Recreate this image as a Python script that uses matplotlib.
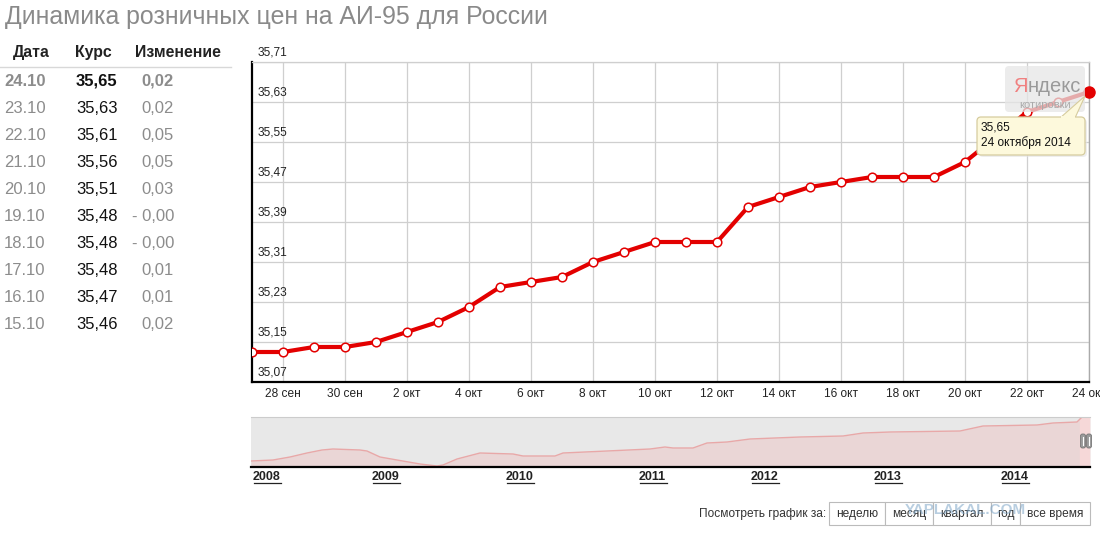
import matplotlib
matplotlib.use("Agg")
import matplotlib.pyplot as plt
import pandas as pd
import numpy as np
from matplotlib.patches import FancyBboxPatch, Rectangle, Polygon

plt.rcParams['font.family'] = ['Liberation Sans', 'DejaVu Sans']

# --- data ---
dates = ["2014-09-27", "2014-09-28", "2014-09-29", "2014-09-30", "2014-10-01",
         "2014-10-02", "2014-10-03", "2014-10-04", "2014-10-05", "2014-10-06",
         "2014-10-07", "2014-10-08", "2014-10-09", "2014-10-10", "2014-10-11",
         "2014-10-12", "2014-10-13", "2014-10-14", "2014-10-15", "2014-10-16",
         "2014-10-17", "2014-10-18", "2014-10-19", "2014-10-20", "2014-10-21",
         "2014-10-22", "2014-10-23", "2014-10-24"]
prices = [35.13, 35.13, 35.14, 35.14, 35.15, 35.17, 35.19, 35.22, 35.26, 35.27,
          35.28, 35.31, 35.33, 35.35, 35.35, 35.35, 35.42, 35.44, 35.46, 35.47,
          35.48, 35.48, 35.48, 35.51, 35.56, 35.61, 35.63, 35.65]
y_ticks = [35.07, 35.15, 35.23, 35.31, 35.39, 35.47, 35.55, 35.63, 35.71]
x_tick_dates = ["2014-09-28", "2014-09-30", "2014-10-02", "2014-10-04", "2014-10-06",
                "2014-10-08", "2014-10-10", "2014-10-12", "2014-10-14", "2014-10-16",
                "2014-10-18", "2014-10-20", "2014-10-22", "2014-10-24"]
x_tick_labels = ["28 сен", "30 сен", "2 окт", "4 окт", "6 окт", "8 окт", "10 окт",
                 "12 окт", "14 окт", "16 окт", "18 окт", "20 окт", "22 окт", "24 окт"]

tbl_dates = ["24.10", "23.10", "22.10", "21.10", "20.10", "19.10", "18.10", "17.10", "16.10", "15.10"]
tbl_rates = ["35,65", "35,63", "35,61", "35,56", "35,51", "35,48", "35,48", "35,48", "35,47", "35,46"]
tbl_change = ["0,02", "0,02", "0,05", "0,05", "0,03", "- 0,00", "- 0,00", "0,01", "0,01", "0,02"]

# navigator (overview 2008-2014), position index along the strip and relative level
nav_idx = [0, 22, 39, 56, 71, 82, 109, 116, 129, 146, 169, 186, 192, 206, 229, 262,
           272, 304, 312, 356, 399, 414, 422, 442, 456, 476, 499, 549, 592, 612, 639,
           709, 732, 786, 802, 826, 831, 839]
nav_lvl = [6, 7, 10, 14, 17, 18, 17, 16, 10, 7, 3, 1, 2, 8, 14, 13, 11, 11, 14, 16,
           18, 20, 19, 19, 24, 25, 28, 30, 31, 34, 35, 36, 41, 42, 44, 45, 50, 50]
year_pos = [2, 121, 255, 388, 500, 623, 750]
year_labels = ["2008", "2009", "2010", "2011", "2012", "2013", "2014"]

W, H = 1100, 541
fig = plt.figure(figsize=(W / 100, H / 100), dpi=100)
fig.patch.set_facecolor('white')

def box(l, t, r, b):
    return [l / W, 1 - b / H, (r - l) / W, (b - t) / H]

# --- main chart ---
x = pd.to_datetime(dates)
ax = fig.add_axes(box(252, 62, 1089, 382))
ax.plot(x, prices, color='#e30000', lw=3.0, marker='o', ms=6.2,
        mfc='white', mec='#e30000', mew=1.1, zorder=3)
ax.plot(x[-1:], prices[-1:], 'o', color='#e30000', ms=8, zorder=4, clip_on=False)
ax.set_xlim(x[0], x[-1])
ax.set_ylim(y_ticks[0], y_ticks[-1])
ax.set_yticks(y_ticks)
ax.set_yticklabels([])
ax.set_xticks(pd.to_datetime(x_tick_dates))
ax.set_xticklabels(x_tick_labels, fontsize=8.6, color='#222222')
ax.tick_params(axis='both', length=0)
ax.tick_params(axis='x', pad=4)
ax.grid(True, color='#cfcfcf', lw=0.9)
ax.set_axisbelow(True)
ax.spines['top'].set_color('#cfcfcf')
ax.spines['top'].set_linewidth(0.9)
ax.spines['right'].set_color('#aaaaaa')
ax.spines['right'].set_linewidth(1.0)
ax.spines['left'].set_color('black')
ax.spines['left'].set_linewidth(1.6)
ax.spines['bottom'].set_color('black')
ax.spines['bottom'].set_linewidth(1.6)
for v in y_ticks:
    ax.text(0.007, v + 0.007, f"{v:.2f}".replace('.', ','), transform=ax.get_yaxis_transform(),
            fontsize=8.6, color='#222222', va='bottom', ha='left', clip_on=False, zorder=2)

# --- navigator ---
nav = fig.add_axes(box(251, 417, 1090, 467))
nav.set_facecolor('#e8e8e8')
nav.fill_between(nav_idx, nav_lvl, 0, color='#ead6d6', lw=0)
nav.plot(nav_idx, nav_lvl, color='#e8a8a8', lw=1.0)
nav.axvspan(nav_idx[-1] - 10, nav_idx[-1], color='#f6d8d8', zorder=1)
nav.set_xlim(0, nav_idx[-1])
nav.set_ylim(0, 50)
nav.set_yticks([])
nav.set_xticks(year_pos)
nav.set_xticklabels(year_labels, fontsize=9, fontweight='bold', color='#222222', ha='left')
nav.tick_params(axis='x', length=0, pad=3)
for s in ['left', 'right']:
    nav.spines[s].set_visible(False)
nav.spines['top'].set_color('#cccccc')
nav.spines['bottom'].set_color('black')
nav.spines['bottom'].set_linewidth(1.6)

# --- overlay in pixel coords ---
ov = fig.add_axes([0, 0, 1, 1], zorder=10)
ov.set_xlim(0, W)
ov.set_ylim(H, 0)
ov.axis('off')
ov.patch.set_alpha(0)

# year underlines
for p in year_pos:
    x0 = 251 + p + 1
    ov.plot([x0, x0 + 27], [483, 483], color='#222222', lw=0.9)

# navigator handles
for hx in [1083, 1089]:
    ov.add_patch(FancyBboxPatch((hx - 2.5, 434), 5, 14, boxstyle="round,pad=0,rounding_size=2",
                                fc='#9a9a9a', ec='#777777', lw=0.6))
    ov.plot([hx, hx], [437, 445], color='white', lw=0.8)

ov.text(5, 17, "Динамика розничных цен на АИ-95 для России", fontsize=17.9,
        color='#8a8a8a', va='center', ha='left')

# table
ov.text(13, 57, "Дата", fontsize=11.4, fontweight='bold', color='#222222', va='baseline')
ov.text(75, 57, "Курс", fontsize=11.4, fontweight='bold', color='#222222', va='baseline')
ov.text(135, 57, "Изменение", fontsize=11.4, fontweight='bold', color='#222222', va='baseline')
ov.plot([0, 231], [66.5, 66.5], color='#d8d8d8', lw=1)
for i, (d, r, c) in enumerate(zip(tbl_dates, tbl_rates, tbl_change)):
    yy = 86 + 27 * i
    fw = 'bold' if i == 0 else 'normal'
    ov.text(4, yy, d, fontsize=12, color='#8c8c8c', va='baseline', fontweight=fw)
    ov.text(76, yy, r, fontsize=12, color='#111111', va='baseline', fontweight=fw)
    ov.text(174, yy, c, fontsize=12, color='#8c8c8c', va='baseline', ha='right', fontweight=fw)

# yandex logo
ov.add_patch(FancyBboxPatch((1005, 66), 80, 46, boxstyle="round,pad=0,rounding_size=4",
                            fc='#e6e6e6', ec='none', alpha=0.75))
ya = ov.text(1013, 92, "Я", fontsize=14.5, color='#f08080', va='baseline', ha='left')
renderer = fig.canvas.get_renderer()
ya_right = ov.transData.inverted().transform(ya.get_window_extent(renderer))[1][0]
ov.text(ya_right, 92, "ндекс", fontsize=14.5, color='#9a9a9a', va='baseline', ha='left')
ov.text(1045, 105, "котировки", fontsize=8, color='#aaaaaa', va='center', ha='center')

# tooltip
ov.add_patch(FancyBboxPatch((979, 119), 108, 38, boxstyle="round,pad=0,rounding_size=4",
                            fc='#e4e4e4', ec='none', alpha=0.6))
ov.add_patch(Polygon([[1060, 118], [1085, 96], [1075, 118]], closed=True,
                     fc='#fdf9dc', ec='#d6cc9e', lw=0.8))
ov.add_patch(FancyBboxPatch((977, 117), 108, 38, boxstyle="round,pad=0,rounding_size=4",
                            fc='#fdf9dc', ec='#d6cc9e', lw=0.9))
ov.add_patch(Rectangle((1061, 115.5), 14, 3, fc='#fdf9dc', ec='none'))
ov.text(981, 128, "35,65", fontsize=8.6, color='#111111', va='center', ha='left')
ov.text(981, 143, "24 октября 2014", fontsize=8.6, color='#111111', va='center', ha='left')

# period buttons
ov.text(826, 514, "Посмотреть график за:", fontsize=8.6, color='#333333', va='center', ha='right')
btn_labels = ["неделю", "месяц", "квартал", "год", "все время"]
btn_edges = [829, 885, 933, 991, 1020, 1090]
for lab, l, r in zip(btn_labels, btn_edges[:-1], btn_edges[1:]):
    ov.add_patch(Rectangle((l, 502), r - l, 23, fc='white', ec='#bbbbbb', lw=0.8))
    ov.text((l + r) / 2, 514, lab, fontsize=8.6, color='#333333', va='center', ha='center')
ov.text(965, 510, "YAPLAKAL.COM", fontsize=11, fontweight='bold', color='#7fa6c8',
        alpha=0.55, va='center', ha='center')

fig.savefig("out.png", dpi=100)
